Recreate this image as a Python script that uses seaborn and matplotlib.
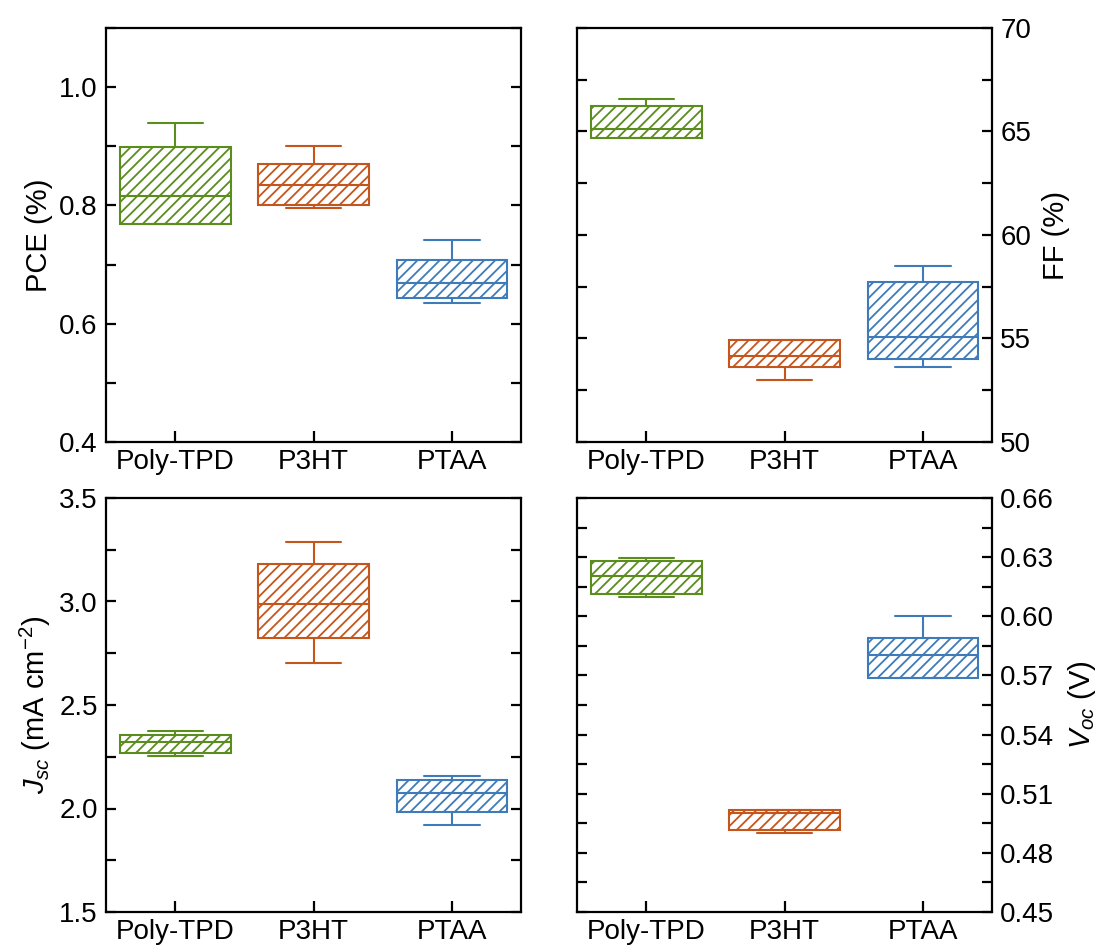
import pandas as pd
import matplotlib
matplotlib.use('Agg')
import matplotlib.pyplot as plt
from matplotlib.ticker import MultipleLocator, FormatStrFormatter
import seaborn as sns

# categories and colours
materials = ['Poly-TPD', 'P3HT', 'PTAA']
colors = ['#5a8c1e', '#c4561d', '#3f7bb8']

# five-number summaries:
# lower whisker, Q1, median, Q3, upper whisker
pce_polytpd = [0.769, 0.769, 0.816, 0.898, 0.940]
pce_p3ht = [0.795, 0.800, 0.834, 0.870, 0.901]
pce_ptaa = [0.635, 0.644, 0.669, 0.708, 0.741]

ff_polytpd = [64.68, 64.68, 65.11, 66.21, 66.59]
ff_p3ht = [52.98, 53.60, 54.15, 54.95, 54.95]
ff_ptaa = [53.63, 54.03, 55.08, 57.71, 58.52]

jsc_polytpd = [2.255, 2.270, 2.323, 2.355, 2.374]
jsc_p3ht = [2.701, 2.825, 2.988, 3.179, 3.287]
jsc_ptaa = [1.922, 1.981, 2.076, 2.137, 2.156]

voc_polytpd = [0.6099, 0.6114, 0.6204, 0.6281, 0.6298]
voc_p3ht = [0.4900, 0.4914, 0.5003, 0.5016, 0.5016]
voc_ptaa = [0.5689, 0.5689, 0.5806, 0.5890, 0.6000]

sns.set_style('ticks')
plt.rcParams['font.family'] = ['Liberation Sans', 'DejaVu Sans']
plt.rcParams['mathtext.fontset'] = 'custom'
plt.rcParams['mathtext.rm'] = 'Liberation Sans'
plt.rcParams['mathtext.it'] = 'Liberation Sans:italic'
plt.rcParams['hatch.linewidth'] = 1.3
plt.rcParams['axes.linewidth'] = 1.6
plt.rcParams['axes.edgecolor'] = 'black'
plt.rcParams['text.color'] = 'black'
plt.rcParams['axes.labelcolor'] = 'black'
plt.rcParams['xtick.color'] = 'black'
plt.rcParams['ytick.color'] = 'black'

FS = 20


def make_df(groups):
    rows = []
    for name, vals in zip(materials, groups):
        for v in vals:
            rows.append({'material': name, 'value': v})
    return pd.DataFrame(rows)


def draw_panel(ax, groups, ylim, major, minor, fmt, ylabel, side):
    df = make_df(groups)
    sns.boxplot(data=df, x='material', y='value', hue='material',
                palette=colors, whis=(0, 100), width=0.8, linewidth=1.5,
                showfliers=False, legend=False, ax=ax)

    # white boxes, coloured outline and hatching
    for cont, c in zip(ax.containers, colors):
        for box in cont.boxes:
            box.set_facecolor('white')
            box.set_edgecolor(c)
            box.set_hatch('///')
        for ln in list(cont.whiskers) + list(cont.caps) + list(cont.medians):
            ln.set_color(c)
            ln.set_linewidth(1.5)

    ax.set_xlim(-0.5, 2.5)
    ax.set_ylim(*ylim)
    ax.yaxis.set_major_locator(MultipleLocator(major))
    ax.yaxis.set_minor_locator(MultipleLocator(minor))
    ax.yaxis.set_major_formatter(FormatStrFormatter(fmt))
    ax.set_xlabel('')
    ax.set_ylabel(ylabel, fontsize=FS + 1)

    ax.tick_params(axis='y', which='both', direction='in', left=True, right=True,
                   length=7, width=1.6, labelsize=FS, pad=6)
    ax.tick_params(axis='x', direction='in', length=8, width=1.6,
                   labelsize=FS, pad=5, top=False)
    if side == 'right':
        ax.tick_params(axis='y', which='both', labelleft=False, labelright=True)
        ax.yaxis.set_label_position('right')
        ax.yaxis.labelpad = 8
    else:
        ax.yaxis.labelpad = 4


fig = plt.figure(figsize=(11.04, 9.51), dpi=100)
W, H = 1104, 951
ax_pce = fig.add_axes([106 / W, (H - 442) / H, 415 / W, 414 / H])
ax_ff = fig.add_axes([577 / W, (H - 442) / H, 415 / W, 414 / H])
ax_jsc = fig.add_axes([106 / W, (H - 912) / H, 415 / W, 414 / H])
ax_voc = fig.add_axes([577 / W, (H - 912) / H, 415 / W, 414 / H])

draw_panel(ax_pce, [pce_polytpd, pce_p3ht, pce_ptaa], (0.4, 1.1), 0.2, 0.1,
           '%.1f', 'PCE (%)', 'left')
draw_panel(ax_ff, [ff_polytpd, ff_p3ht, ff_ptaa], (50, 70), 5, 2.5,
           '%d', 'FF (%)', 'right')
draw_panel(ax_jsc, [jsc_polytpd, jsc_p3ht, jsc_ptaa], (1.5, 3.5), 0.5, 0.25,
           '%.1f', r'$J_{sc}$ (mA cm$^{-2}$)', 'left')
draw_panel(ax_voc, [voc_polytpd, voc_p3ht, voc_ptaa], (0.45, 0.66), 0.03, 0.015,
           '%.2f', r'$V_{oc}$ (V)', 'right')

fig.savefig('out.png', dpi=100)
